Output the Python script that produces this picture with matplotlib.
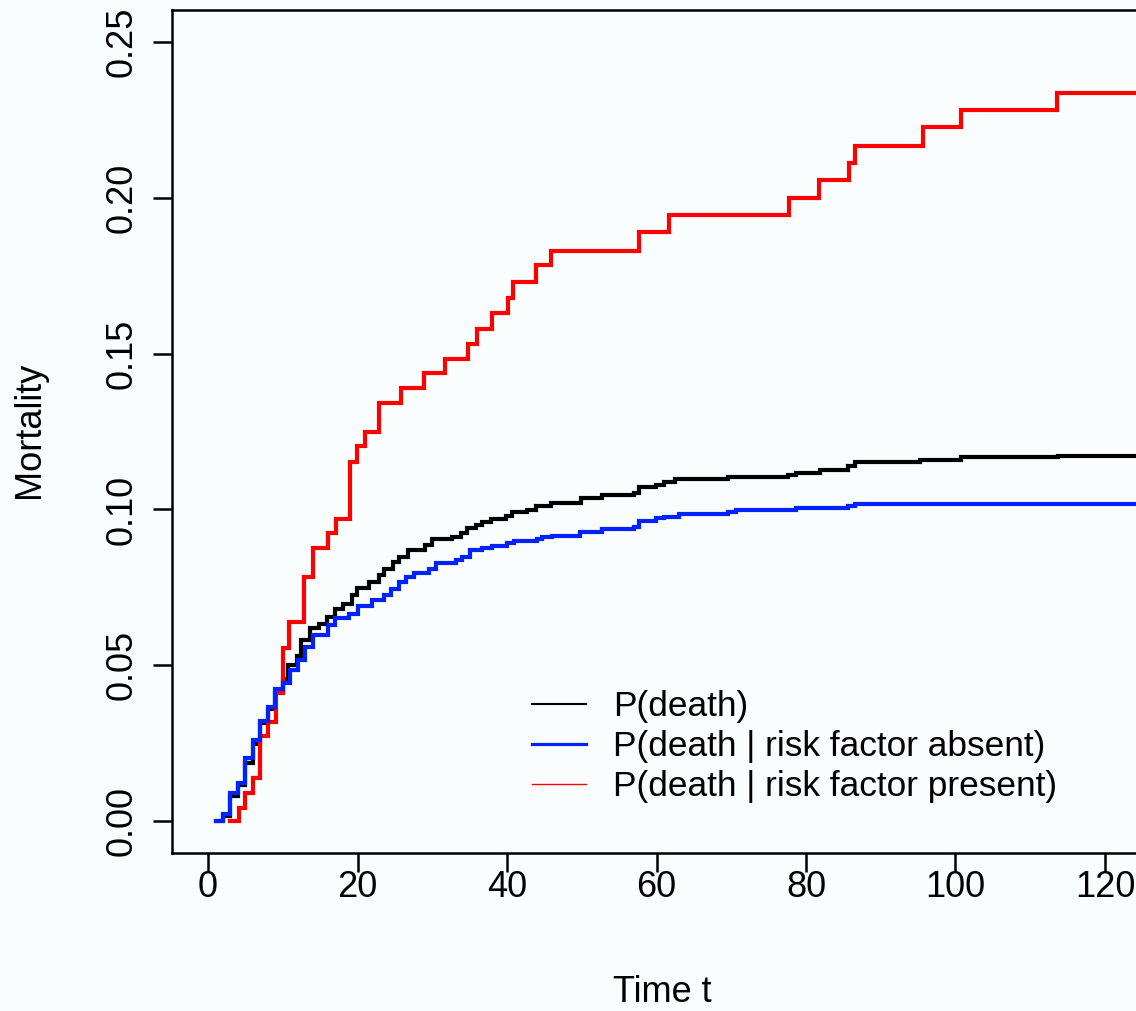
import matplotlib
matplotlib.use("Agg")
import matplotlib.pyplot as plt
from matplotlib.lines import Line2D

plt.rcParams['font.family'] = ['Liberation Sans', 'DejaVu Sans']

# ---- data (step functions: time of step, value after step) ----
t_all = [1, 2, 3, 4, 5, 6, 7, 8, 9, 10, 10.7, 11.9, 12.5, 13.6, 14.9, 15.9, 17, 18,
         19.2, 19.9, 21.6, 22.9, 23.6, 24.7, 25.6, 26.7, 29, 29.9, 32.7, 33.9, 34.7,
         35.9, 36.7, 37.9, 39.9, 40.7, 42.7, 43.9, 45.9, 49.9, 52.7, 57, 57.6, 59.9,
         61, 62.5, 69.6, 77.6, 78.6, 81.9, 85.6, 86.5, 95.3, 100.7, 113.7, 146]
p_all = [0.0, 0.0015, 0.008, 0.0115, 0.0187, 0.0247, 0.0314, 0.036, 0.0415, 0.0456,
         0.050, 0.053, 0.058, 0.0619, 0.0632, 0.0655, 0.068, 0.0695, 0.0725, 0.0749,
         0.0766, 0.079, 0.081, 0.0832, 0.0848, 0.087, 0.0887, 0.0904, 0.091, 0.0923,
         0.0942, 0.095, 0.0959, 0.0969, 0.0979, 0.0993, 0.0998, 0.1011, 0.1022, 0.1037,
         0.1046, 0.1054, 0.1073, 0.108, 0.1089, 0.1098, 0.1105, 0.1112, 0.1118, 0.1126,
         0.1139, 0.1152, 0.1159, 0.1167, 0.1173, 0.1173]

t_absent = [1, 2, 3, 4, 5, 6, 7, 8, 9, 10, 11, 12, 13, 14, 16, 17, 18.8, 20, 22,
            23.5, 24.5, 25.5, 26.5, 27.5, 29.5, 30.5, 33.2, 34, 35, 36.7, 38, 40, 41,
            44, 44.7, 46, 49.8, 52.7, 57, 57.6, 59.9, 61, 63, 69.6, 70.6, 78.6, 85.6,
            86.5, 146]
p_absent = [0.0, 0.0022, 0.0091, 0.0123, 0.0201, 0.026, 0.0322, 0.0367, 0.0423, 0.0442,
            0.0485, 0.0517, 0.0559, 0.0597, 0.0629, 0.065, 0.0666, 0.069, 0.0709,
            0.0725, 0.0745, 0.0768, 0.0784, 0.0795, 0.081, 0.0827, 0.0838, 0.0848,
            0.087, 0.0877, 0.0884, 0.0891, 0.0899, 0.0905, 0.091, 0.0915, 0.0928,
            0.0938, 0.0944, 0.0963, 0.0971, 0.0976, 0.0984, 0.0992, 0.0998, 0.1005,
            0.101, 0.1019, 0.1019]

t_present = [3, 4.2, 4.9, 6, 6.9, 8, 9.1, 10, 10.8, 12.8, 14, 16, 17.1, 19, 19.9, 21,
             22.9, 25.8, 28.9, 31.7, 34.8, 36, 38, 40.1, 40.8, 43.9, 45.9, 57.7, 61.7,
             77.7, 81.7, 85.7, 86.5, 95.6, 100.7, 113.6, 146]
p_present = [0.0, 0.0043, 0.0091, 0.0139, 0.0274, 0.0318, 0.041, 0.0554, 0.064, 0.0784,
             0.0877, 0.0923, 0.0969, 0.1153, 0.1203, 0.1249, 0.1342, 0.139, 0.1437,
             0.1483, 0.1531, 0.1579, 0.1632, 0.1679, 0.1729, 0.1784, 0.1829, 0.1891,
             0.1945, 0.1998, 0.2057, 0.2112, 0.2167, 0.2228, 0.2282, 0.2337, 0.2337]

labels = ["P(death)", "P(death | risk factor absent)", "P(death | risk factor present)"]
x_ticks = [0, 20, 40, 60, 80, 100, 120]
y_ticks = [0.00, 0.05, 0.10, 0.15, 0.20, 0.25]

bg = '#f9fdfd'
fs = 26
fig = plt.figure(figsize=(11.36, 10.11), dpi=100, facecolor=bg)
ax = fig.add_axes([172/1136, 1-853/1011, 1-172/1136, (853-10)/1011], facecolor=bg)

lw = 3.0
ax.step(t_all, p_all, where='post', color='black', lw=lw, solid_joinstyle='miter')
ax.step(t_present, p_present, where='post', color='#ff0000', lw=lw, solid_joinstyle='miter')
ax.step(t_absent, p_absent, where='post', color='#0022ff', lw=lw, solid_joinstyle='miter')

ax.set_xlim(-4.82, 124.15)
ax.set_ylim(-0.01027, 0.2603)

ax.spines['right'].set_visible(False)
for s in ['left', 'top', 'bottom']:
    ax.spines[s].set_linewidth(1.8)

ax.set_xticks(x_ticks)
ax.set_xticklabels([str(v) for v in x_ticks])
ax.set_yticks(y_ticks)
ax.set_yticklabels([f"{v:.2f}" for v in y_ticks])
ax.tick_params(axis='both', length=14, width=1.8, labelsize=fs)
ax.tick_params(axis='x', pad=-2)
ax.tick_params(axis='y', pad=9, labelrotation=90)
for lab in ax.get_yticklabels():
    lab.set_va('center')

ax.set_xlabel("Time t", fontsize=fs)
ax.set_ylabel("Mortality", fontsize=fs)
ax.xaxis.set_label_coords((662-172)/964, (853-992)/843)
ax.xaxis.label.set_va('center')
ax.yaxis.set_label_coords((30-172)/964, (853-430)/843)
ax.yaxis.label.set_va('center')

lfs = 25.4
handles = [Line2D([], [], color='black', lw=1.5),
           Line2D([], [], color='#0022ff', lw=2.3),
           Line2D([], [], color='#ff0000', lw=1.0)]
ax.legend(handles, labels, loc='upper left', bbox_to_anchor=(532/1136, 1-690/1011),
          bbox_transform=fig.transFigure, frameon=False, fontsize=lfs,
          handlelength=1.53, handletextpad=0.77, labelspacing=0.2, borderpad=0,
          borderaxespad=0)

fig.savefig("out.png", dpi=100, facecolor=bg)
